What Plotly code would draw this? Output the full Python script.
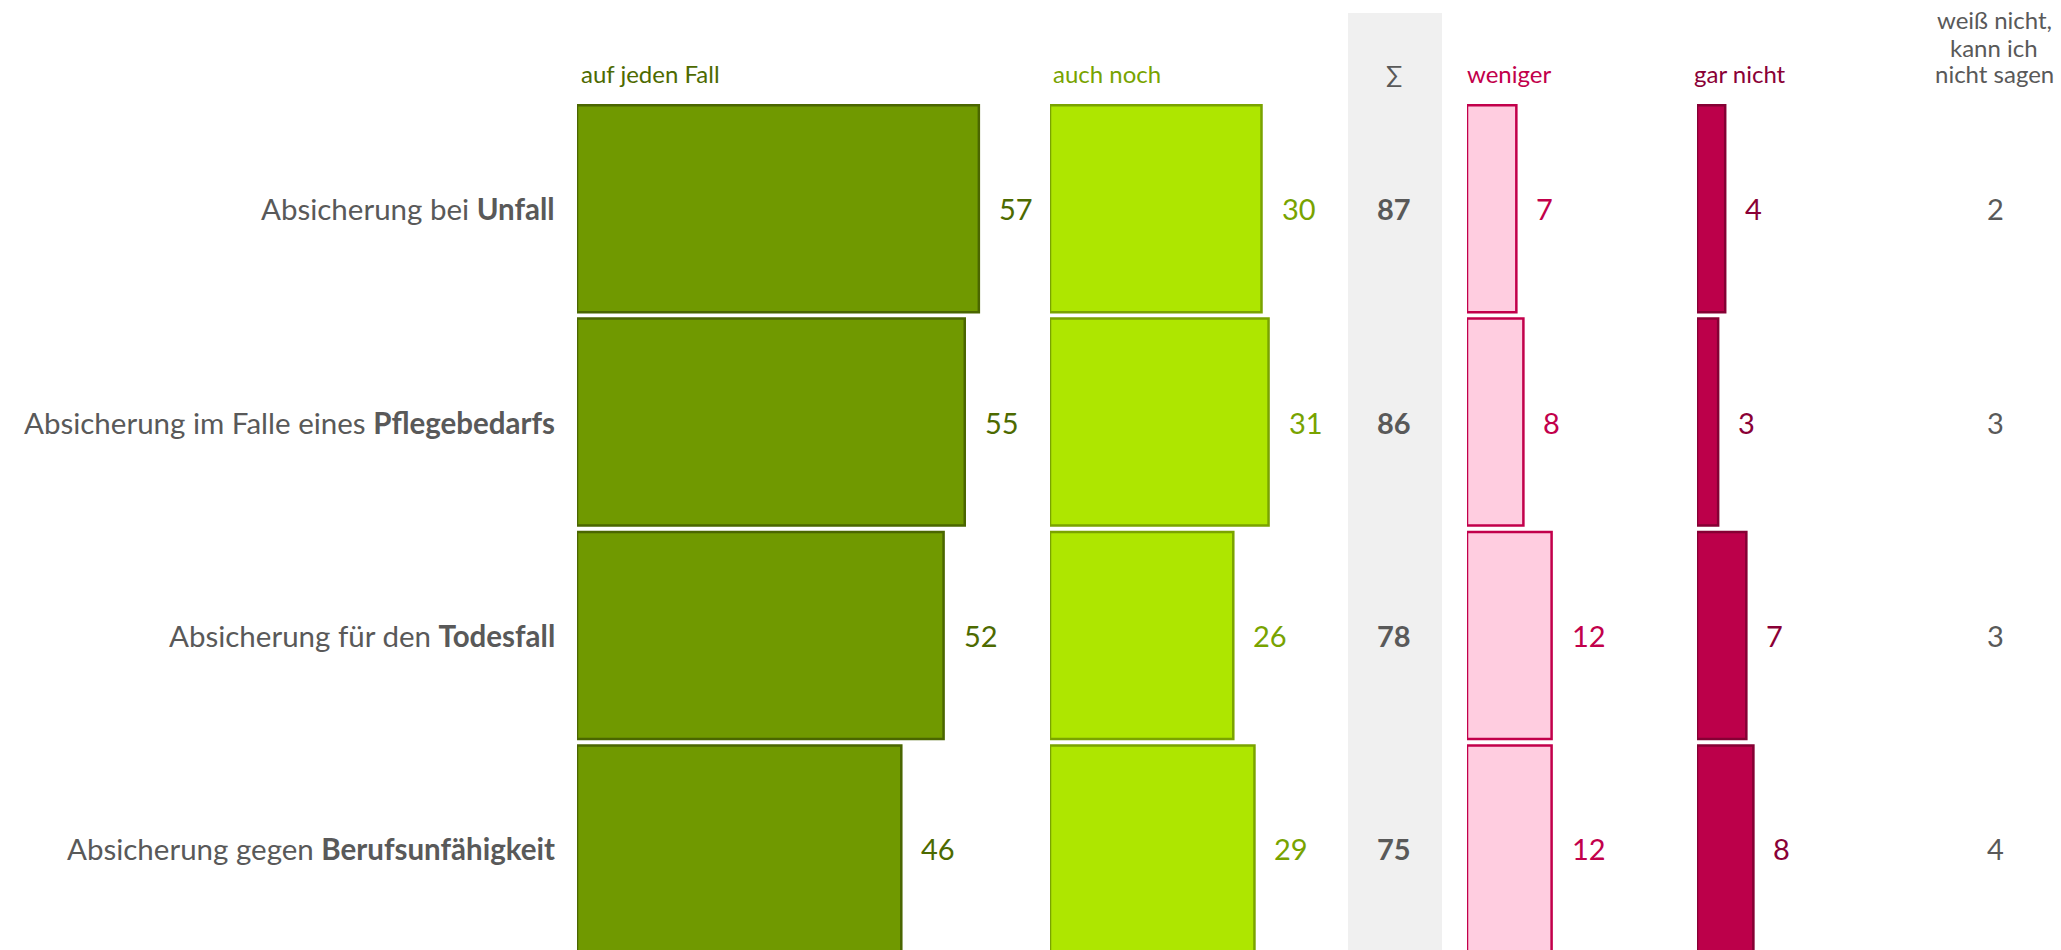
import plotly.graph_objects as go

# Survey results (percent) for four types of insurance cover
categories_plain = [
    "Absicherung bei ",
    "Absicherung im Falle eines ",
    "Absicherung für den ",
    "Absicherung gegen ",
]
categories_bold = ["Unfall", "Pflegebedarfs", "Todesfall", "Berufsunfähigkeit"]

auf_jeden_fall = [57, 55, 52, 46]
auch_noch = [30, 31, 26, 29]
summe = [87, 86, 78, 75]
weniger = [7, 8, 12, 12]
gar_nicht = [4, 3, 7, 8]
weiss_nicht = [2, 3, 3, 4]

header_labels = ["auf jeden Fall", "auch noch", "∑", "weniger", "gar nicht"]
weiss_nicht_header = ["weiß nicht,", "kann ich", "nicht sagen"]

W, H = 2061, 950
TOP = 102
PLOT_H = H - TOP
PX_PER_UNIT = 7.05
FONT = "Lato"
GREY = "#595959"

rows = list(range(len(categories_bold)))
row_pitch = 213.4
y_bottom = -0.5 + PLOT_H / row_pitch  # reversed axis: row 0 on top


def yp(px_from_top):
    """Paper y coordinate for a pixel offset from the top of the page."""
    return 1 + (TOP - px_from_top) / PLOT_H


# bar columns: (values, axis id, left pixel, axis span in units, fill, outline, text colour)
columns = [
    (auf_jeden_fall, "x", 577, 70, "#709900", "#4a6600", "#4d6a00"),
    (auch_noch, "x2", 1050, 40, "#aee600", "#7aa300", "#78a300"),
    (weniger, "x3", 1467, 20, "#ffcde0", "#c2004b", "#c2004b"),
    (gar_nicht, "x4", 1697, 20, "#bc004a", "#850034", "#8a0036"),
]

fig = go.Figure()
annotations = []
layout_axes = {}

for idx, (vals, ax, left, span, fill, line, tcol) in enumerate(columns):
    fig.add_trace(go.Bar(
        x=vals, y=rows, orientation="h", xaxis=ax, yaxis="y",
        width=0.97, marker=dict(color=fill, line=dict(color=line, width=2.5)),
        hoverinfo="x", showlegend=False,
    ))
    name = "xaxis" if ax == "x" else "xaxis" + ax[1:]
    layout_axes[name] = dict(
        domain=[left / W, (left + span * PX_PER_UNIT) / W],
        range=[0, span], visible=False, anchor="y", fixedrange=True,
    )
    for r, v in zip(rows, vals):
        annotations.append(dict(
            x=v, y=r, xref=ax, yref="y", text=str(v), showarrow=False,
            xanchor="left", yanchor="middle", xshift=18,
            font=dict(family=FONT, size=29, color=tcol),
        ))

# column headers
header_pos = [(579, "left", "#4d6a00"), (1051, "left", "#78a300"),
              (1394, "center", GREY), (1465, "left", "#c2004b"),
              (1692, "left", "#8a0036")]
for (hx, anchor, col), label in zip(header_pos, header_labels):
    annotations.append(dict(
        x=hx / W, y=yp(73), xref="paper", yref="paper", text=label,
        showarrow=False, xanchor=anchor, yanchor="middle",
        font=dict(family=FONT, size=24, color=col),
    ))
for line_y, line_text in zip([20, 47, 73], weiss_nicht_header):
    annotations.append(dict(
        x=1994 / W, y=yp(line_y), xref="paper", yref="paper", text=line_text,
        showarrow=False, xanchor="center", yanchor="middle",
        font=dict(family=FONT, size=24, color=GREY),
    ))

# category labels, sums and "weiß nicht" values
for r in rows:
    annotations.append(dict(
        x=557 / W, y=r, xref="paper", yref="y",
        text=f"{categories_plain[r]}<b>{categories_bold[r]}</b>",
        showarrow=False, xanchor="right", yanchor="middle",
        font=dict(family=FONT, size=29.5, color=GREY),
    ))
    annotations.append(dict(
        x=1394 / W, y=r, xref="paper", yref="y", text=f"<b>{summe[r]}</b>",
        showarrow=False, xanchor="center", yanchor="middle",
        font=dict(family=FONT, size=29, color=GREY),
    ))
    annotations.append(dict(
        x=1995 / W, y=r, xref="paper", yref="y", text=str(weiss_nicht[r]),
        showarrow=False, xanchor="center", yanchor="middle",
        font=dict(family=FONT, size=29, color=GREY),
    ))

# grey band behind the sum column
shapes = [dict(
    type="rect", xref="paper", yref="paper", layer="below",
    x0=1348 / W, x1=1442 / W, y0=-0.05, y1=yp(13),
    fillcolor="#f0f0f0", line=dict(width=0),
)]

fig.update_layout(
    width=W, height=H,
    margin=dict(l=0, r=0, t=TOP, b=0, autoexpand=False),
    paper_bgcolor="white", plot_bgcolor="rgba(0,0,0,0)",
    barmode="overlay",
    yaxis=dict(range=[y_bottom, -0.5], visible=False, fixedrange=True),
    annotations=annotations, shapes=shapes,
    **layout_axes,
)

fig.write_html("out.html")
